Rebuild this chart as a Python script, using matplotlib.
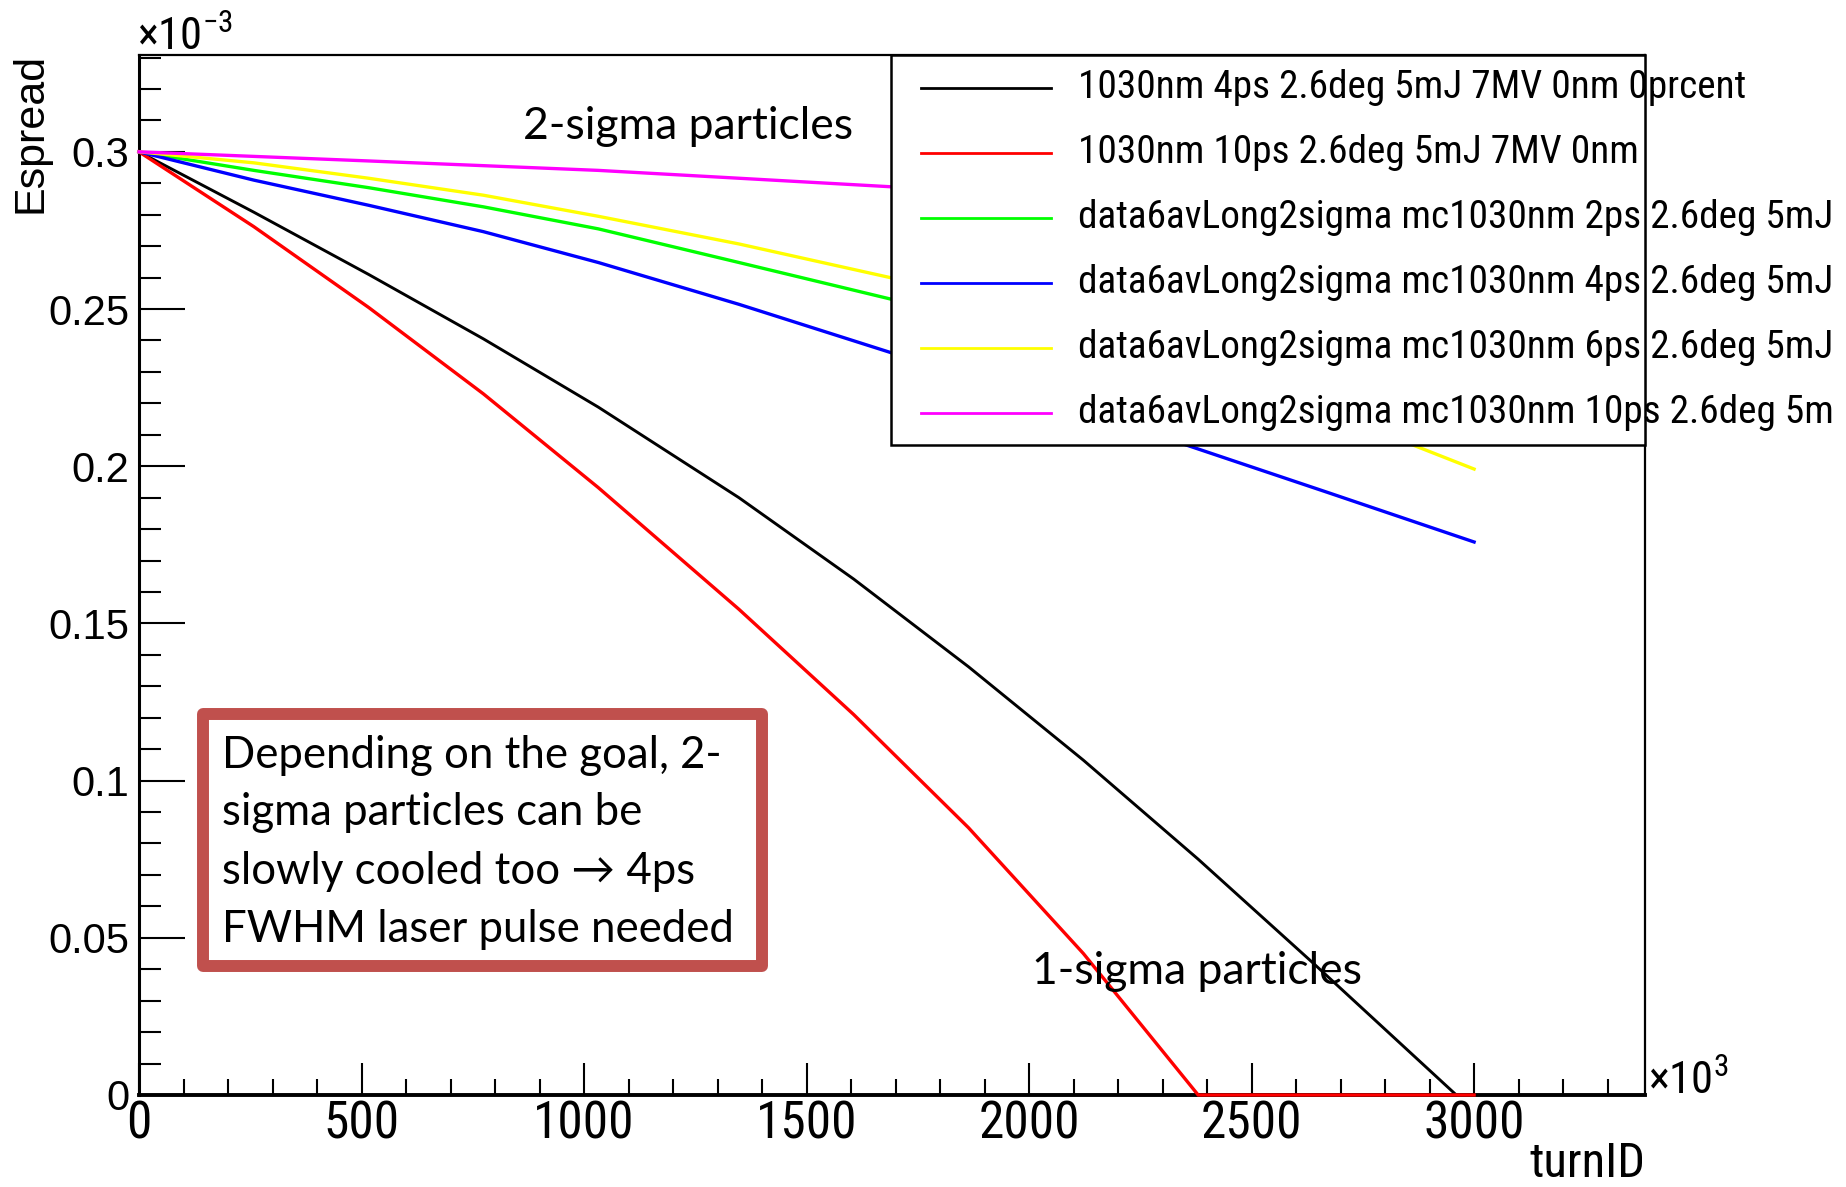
import matplotlib
matplotlib.use("Agg")
import matplotlib.pyplot as plt
from matplotlib import font_manager as fm
from matplotlib.patches import Rectangle
from matplotlib.ticker import MultipleLocator, FixedLocator, FuncFormatter

W, H = 1846, 1187

# turnID in units of 1e3, Espread in units of 1e-3
black_x = [0, 258, 516, 774, 1032, 1348, 1606, 1864, 2122, 2380, 2638, 2960]
black_y = [0.300, 0.2808, 0.2610, 0.2405, 0.2188, 0.1900, 0.1641, 0.1362, 0.1065, 0.0750, 0.0420, 0.0]

red_x = [0, 258, 516, 774, 1032, 1348, 1606, 1864, 2122, 2380, 3000]
red_y = [0.300, 0.2762, 0.2505, 0.2230, 0.1932, 0.1545, 0.1210, 0.0850, 0.0450, 0.0, 0.0]

green_x = [0, 258, 516, 774, 1032, 1348, 1688, 2000, 2500, 3000]
green_y = [0.300, 0.2941, 0.2886, 0.2825, 0.2755, 0.2648, 0.2532, 0.2428, 0.2262, 0.2092]

blue_x = [0, 258, 516, 774, 1032, 1348, 1688, 2348, 2668, 3000]
blue_y = [0.300, 0.2910, 0.2830, 0.2746, 0.2648, 0.2515, 0.2362, 0.2070, 0.1918, 0.1759]

yellow_x = [0, 258, 516, 774, 1032, 1348, 1688, 2000, 2500, 2849, 3000]
yellow_y = [0.300, 0.2965, 0.2916, 0.2862, 0.2795, 0.2707, 0.2600, 0.2485, 0.2268, 0.2075, 0.1991]

magenta_x = [0, 516, 1032, 1348, 1688, 2500, 3000]
magenta_y = [0.300, 0.2971, 0.2941, 0.2916, 0.2889, 0.2823, 0.2778]

labels = ["1030nm 4ps 2.6deg 5mJ 7MV 0nm 0prcent",
          "1030nm 10ps 2.6deg 5mJ 7MV 0nm",
          "data6avLong2sigma mc1030nm 2ps 2.6deg 5mJ",
          "data6avLong2sigma mc1030nm 4ps 2.6deg 5mJ",
          "data6avLong2sigma mc1030nm 6ps 2.6deg 5mJ",
          "data6avLong2sigma mc1030nm 10ps 2.6deg 5m"]
colors = ["#000000", "#ff0000", "#00ff00", "#0000ff", "#ffff00", "#ff00ff"]

x_ticks = [0, 500, 1000, 1500, 2000, 2500, 3000]
y_ticks = [0, 0.05, 0.1, 0.15, 0.2, 0.25, 0.3]

note_lines = ["Depending on the goal, 2-",
              "sigma particles can be",
              "slowly cooled too \u2192 4ps",
              "FWHM laser pulse needed"]
note_base = [768, 825, 884, 942]

# ROOT text is a condensed helvetica; use a narrow face if one is installed
avail = {f.name for f in fm.fontManager.ttflist}
narrow = next((n for n in ["Liberation Sans Narrow", "Arial Narrow", "Roboto Condensed",
                           "Noto Sans Condensed", "Nimbus Sans Narrow", "Open Sans Condensed"]
               if n in avail), None)
if narrow:
    NARROW, k = [narrow, "Liberation Sans", "DejaVu Sans"], 1.0
else:
    NARROW, k = ["Liberation Sans", "DejaVu Sans"], 0.84
SANS = ["Liberation Sans", "DejaVu Sans"]
CAL = ["Lato", "DejaVu Sans"]

plt.rcParams["mathtext.fontset"] = "custom"
plt.rcParams["mathtext.rm"] = NARROW[0]


def fx(px):
    return px / W


def fy(py):
    return 1 - py / H


fig = plt.figure(figsize=(W / 100, H / 100), dpi=100)
ax = fig.add_axes([fx(139), fy(1095), fx(1645) - fx(139), fy(55) - fy(1095)])

series = [(black_x, black_y), (red_x, red_y), (green_x, green_y),
          (blue_x, blue_y), (yellow_x, yellow_y), (magenta_x, magenta_y)]
for (xs, ys), c in zip(series, colors):
    ax.plot(xs, ys, color=c, lw=2.4 if c != "#000000" else 2.1, zorder=3,
            clip_on=False, solid_joinstyle="round")

ax.set_xlim(0, 3384)
ax.set_ylim(0, 0.3308)

ax.xaxis.set_major_locator(FixedLocator(x_ticks))
ax.xaxis.set_minor_locator(MultipleLocator(100))
ax.yaxis.set_major_locator(FixedLocator(y_ticks))
ax.yaxis.set_minor_locator(MultipleLocator(0.01))
ax.yaxis.set_major_formatter(FuncFormatter(lambda v, p: "0" if v == 0 else ("%g" % v)))

ax.tick_params(axis="x", which="both", direction="in", top=False, width=1.5,
               labelsize=37 * k, pad=3, labelfontfamily=NARROW)
ax.tick_params(axis="x", which="major", length=23)
ax.tick_params(axis="x", which="minor", length=11.5)
ax.tick_params(axis="y", which="both", direction="in", right=False, width=1.5,
               labelsize=30, pad=7, labelfontfamily=SANS)
ax.tick_params(axis="y", which="major", length=33)
ax.tick_params(axis="y", which="minor", length=16)

ax.spines["left"].set_linewidth(2.2)
ax.spines["bottom"].set_linewidth(2.8)
ax.spines["top"].set_linewidth(1.6)
ax.spines["right"].set_linewidth(1.6)

# axis titles and exponents
fig.text(fx(31), fy(53), "Espread", rotation=90, ha="center", va="top",
         fontsize=31, family=SANS)
fig.text(fx(1645), fy(1141), "turnID", ha="right", va="top", fontsize=35 * k, family=NARROW)
fig.text(fx(137), fy(50), "\u00d710$^{-3}$", ha="left", va="baseline", fontsize=32 * k, family=NARROW)
fig.text(fx(1648), fy(1094), "\u00d710$^{3}$", ha="left", va="baseline", fontsize=32 * k, family=NARROW)

# legend box (ROOT style)
ax.add_patch(Rectangle((0.4993, 0.625), 0.5007, 0.375, transform=ax.transAxes,
                       facecolor="white", edgecolor="black", lw=1.8, zorder=5, clip_on=False))
for i, (lab, c) in enumerate(zip(labels, colors)):
    yy = 1 - 0.0625 * (i + 0.5)
    ax.plot([0.519, 0.6056], [yy, yy], color=c, lw=2.0, transform=ax.transAxes,
            zorder=6, clip_on=False)
    ax.text(0.6235, yy, lab, transform=ax.transAxes, ha="left", va="center",
            fontsize=28.3 * k, family=NARROW, zorder=6, clip_on=False)

# slide annotations
fig.text(fx(523), fy(139), "2-sigma particles", ha="left", va="baseline", fontsize=32, family=CAL)
fig.text(fx(1032), fy(984), "1-sigma particles", ha="left", va="baseline", fontsize=32, family=CAL,
         zorder=4)

box = Rectangle((fx(203), fy(966)), fx(762) - fx(203), fy(714) - fy(966), transform=fig.transFigure,
                facecolor="white", edgecolor="#c0504d", lw=8.6, joinstyle="round", zorder=5)
fig.add_artist(box)
for line, yb in zip(note_lines, note_base):
    fig.text(fx(222), fy(yb), line, ha="left", va="baseline", fontsize=31.5, family=CAL, zorder=6)

fig.savefig("out.png", dpi=100)
